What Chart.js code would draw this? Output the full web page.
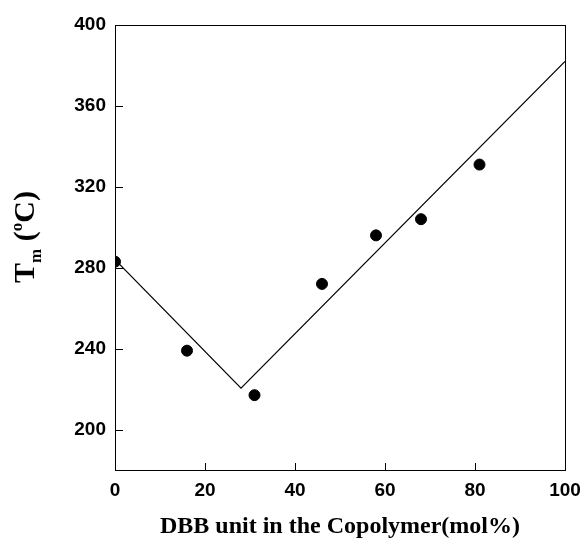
<!DOCTYPE html>
<html>
<head>
<meta charset="utf-8">
<script src="https://cdn.jsdelivr.net/npm/chart.js@4/dist/chart.umd.min.js"></script>
<style>
  html, body { margin: 0; padding: 0; background: #fff; }
  #wrap { width: 582px; height: 544px; }
</style>
</head>
<body>
<div id="wrap"><canvas id="chart"></canvas></div>
<script>
// measured points
const dbbX = [0, 16, 31, 46, 58, 68, 81];
const tmY = [283, 239, 217, 272, 296, 304, 331];

// fitted V-shaped line
const lineX = [0, 28, 100];
const lineY = [284, 220.5, 382];

// axis ticks
const xTicks = [0, 20, 40, 60, 80, 100];
const yTicks = [200, 240, 280, 320, 360, 400];

const xTitle = 'DBB unit in the Copolymer(mol%)';

function toPoints(xs, ys) {
    return xs.map((x, i) => ({ x: x, y: ys[i] }));
}

// frame, inward ticks and axis titles
const decor = {
    id: 'decor',
    afterDraw(chart) {
        const ctx = chart.ctx;
        const a = chart.chartArea;
        const xs = chart.scales.x;
        const ys = chart.scales.y;
        ctx.save();
        ctx.strokeStyle = '#000';
        ctx.lineWidth = 1;
        ctx.strokeRect(a.left + 0.5, a.top + 0.5, a.right - a.left, a.bottom - a.top);
        ctx.beginPath();
        xTicks.forEach(v => {
            const px = Math.round(xs.getPixelForValue(v)) + 0.5;
            ctx.moveTo(px, a.bottom);
            ctx.lineTo(px, a.bottom - 7);
        });
        yTicks.forEach(v => {
            const py = Math.round(ys.getPixelForValue(v)) + 0.5;
            ctx.moveTo(a.left, py);
            ctx.lineTo(a.left + 8, py);
        });
        ctx.stroke();

        // x title
        ctx.fillStyle = '#000';
        ctx.font = 'bold 24px "Liberation Serif", "Times New Roman", serif';
        ctx.textAlign = 'center';
        ctx.textBaseline = 'alphabetic';
        ctx.fillText(xTitle, (a.left + a.right) / 2, 533);

        // y title: T_m (°C), rotated
        const big = 'bold 30px "Liberation Serif", "Times New Roman", serif';
        const small = 'bold 17px "Liberation Serif", "Times New Roman", serif';
        const parts = [
            { t: 'T', f: big, dy: 0 },
            { t: 'm', f: small, dy: 7 },
            { t: ' (', f: big, dy: 0 },
            { t: 'o', f: small, dy: -12 },
            { t: 'C)', f: big, dy: 0 }
        ];
        let total = 0;
        parts.forEach(p => { ctx.font = p.f; p.w = ctx.measureText(p.t).width; total += p.w; });
        ctx.translate(34, 237);
        ctx.rotate(-Math.PI / 2);
        ctx.textAlign = 'left';
        let cx = -total / 2;
        parts.forEach(p => {
            ctx.font = p.f;
            ctx.fillText(p.t, cx, p.dy);
            cx += p.w;
        });
        ctx.restore();
    }
};

const tickFont = { family: '"Liberation Sans", Arial, sans-serif', size: 19, weight: 'bold' };

new Chart(document.getElementById('chart'), {
    type: 'scatter',
    data: {
        datasets: [
            {
                label: 'fit',
                data: toPoints(lineX, lineY),
                showLine: true,
                borderColor: '#000',
                borderWidth: 1.2,
                pointRadius: 0,
                fill: false
            },
            {
                label: 'Tm',
                data: toPoints(dbbX, tmY),
                backgroundColor: '#000',
                borderColor: '#000',
                pointRadius: 5.5,
                pointHoverRadius: 5.5
            }
        ]
    },
    options: {
        responsive: true,
        maintainAspectRatio: false,
        animation: false,
        events: [],
        layout: { padding: { left: 0, right: 17, top: 25, bottom: 0 } },
        plugins: {
            legend: { display: false },
            tooltip: { enabled: false }
        },
        scales: {
            x: {
                type: 'linear',
                min: 0,
                max: 100,
                afterBuildTicks: s => { s.ticks = xTicks.map(v => ({ value: v })); },
                afterFit: s => { s.height = 74; s.paddingLeft = 0; s.paddingRight = 0; },
                grid: { display: false, drawTicks: false },
                border: { display: false },
                ticks: { color: '#000', font: tickFont, padding: 9, maxRotation: 0 }
            },
            y: {
                type: 'linear',
                min: 180,
                max: 400,
                afterBuildTicks: s => { s.ticks = yTicks.map(v => ({ value: v })); },
                afterFit: s => { s.width = 115; s.paddingTop = 0; s.paddingBottom = 0; },
                grid: { display: false, drawTicks: false },
                border: { display: false },
                ticks: { color: '#000', font: tickFont, padding: 9 }
            }
        }
    },
    plugins: [decor]
});
</script>
</body>
</html>
